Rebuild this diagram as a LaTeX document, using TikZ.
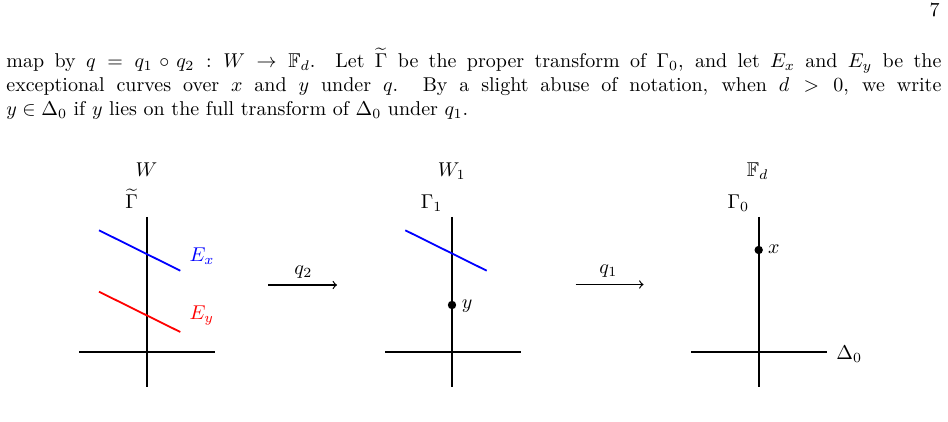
\documentclass[tikz,border=0pt]{standalone}
\usepackage{amsmath,amssymb}
\begin{document}
\begin{tikzpicture}[x=0.5pt,y=-0.5pt,
  curve/.style={line width=0.9pt},
  lbl/.style={inner sep=0},
  dotnode/.style={circle,fill,inner sep=0,minimum size=4.2pt},
  maparrow/.style={semithick,->}]
\useasboundingbox (0,0) rectangle (948,422);
% page number and paragraph
\node[lbl,anchor=base east] (pagenum) at (940,17) {7};
\node[lbl,anchor=base west] (para) at (6,67.5) {\parbox[t]{467.5pt}{\hbadness=10000 map by $q = q_1\circ q_2 : W\to \mathbb{F}_d$. Let $\widetilde{\Gamma}$ be the proper transform of $\Gamma_0$, and let $E_x$ and $E_y$ be the\linebreak exceptional curves over $x$ and $y$ under $q$. By a slight abuse of notation, when $d>0$, we write\linebreak $y\in\Delta_0$ if $y$ lies on the full transform of $\Delta_0$ under $q_1$.}};
% ---------- panel W ----------
\coordinate (v1t) at (147,217); \coordinate (v1b) at (147,387);
\coordinate (h1l) at (79,352);  \coordinate (h1r) at (215,352);
\coordinate (ex1a) at (99,230.3); \coordinate (ex1b) at (180.3,270.7);
\coordinate (ey1a) at (99,291.7); \coordinate (ey1b) at (180.3,332);
\draw[curve] (v1t) -- (v1b);
\draw[curve] (h1l) -- (h1r);
\draw[curve,blue] (ex1a) -- (ex1b);
\draw[curve,red] (ey1a) -- (ey1b);
\node[lbl,anchor=base west,blue] (Ex) at (189.3,262) {$E_x$};
\node[lbl,anchor=base west,red] (Ey) at (189.3,320) {$E_y$};
\node[lbl,anchor=base] (W) at (146.5,177) {$W$};
\node[lbl,anchor=base] (Gt) at (131.7,209) {$\widetilde{\Gamma}$};
% arrow q2
\coordinate (a2s) at (268.3,285); \coordinate (a2e) at (337,285);
\draw[maparrow] (a2s) -- (a2e);
\node[lbl,anchor=base] (q2) at (303.3,275) {$q_2$};
% ---------- panel W1 ----------
\coordinate (v2t) at (452,217); \coordinate (v2b) at (452,387);
\coordinate (h2l) at (385,352);  \coordinate (h2r) at (520.7,352);
\coordinate (ex2a) at (405.3,230.3); \coordinate (ex2b) at (486.7,270.7);
\draw[curve] (v2t) -- (v2b);
\draw[curve] (h2l) -- (h2r);
\draw[curve,blue] (ex2a) -- (ex2b);
\node[dotnode] (ydot) at (452,305) {};
\node[lbl,anchor=base west] (ylab) at (461.5,308) {$y$};
\node[lbl,anchor=base] (W1) at (451.7,177) {$W_1$};
\node[lbl,anchor=base] (G1) at (431.7,209) {$\Gamma_1$};
% arrow q1
\coordinate (a1s) at (575.7,284.5); \coordinate (a1e) at (643.5,284.5);
\draw[maparrow] (a1s) -- (a1e);
\node[lbl,anchor=base] (q1) at (608.3,274) {$q_1$};
% ---------- panel F_d ----------
\coordinate (v3t) at (758.7,217); \coordinate (v3b) at (758.7,387);
\coordinate (h3l) at (691,352);  \coordinate (h3r) at (826.7,352);
\draw[curve] (v3t) -- (v3b);
\draw[curve] (h3l) -- (h3r);
\node[dotnode] (xdot) at (758.7,250) {};
\node[lbl,anchor=base west] (xlab) at (767.7,254) {$x$};
\node[lbl,anchor=base west] (D0) at (836,359.3) {$\Delta_0$};
\node[lbl,anchor=base] (Fd) at (757.7,177) {$\mathbb{F}_d$};
\node[lbl,anchor=base] (G0) at (738.3,209) {$\Gamma_0$};
\end{tikzpicture}
\end{document}
